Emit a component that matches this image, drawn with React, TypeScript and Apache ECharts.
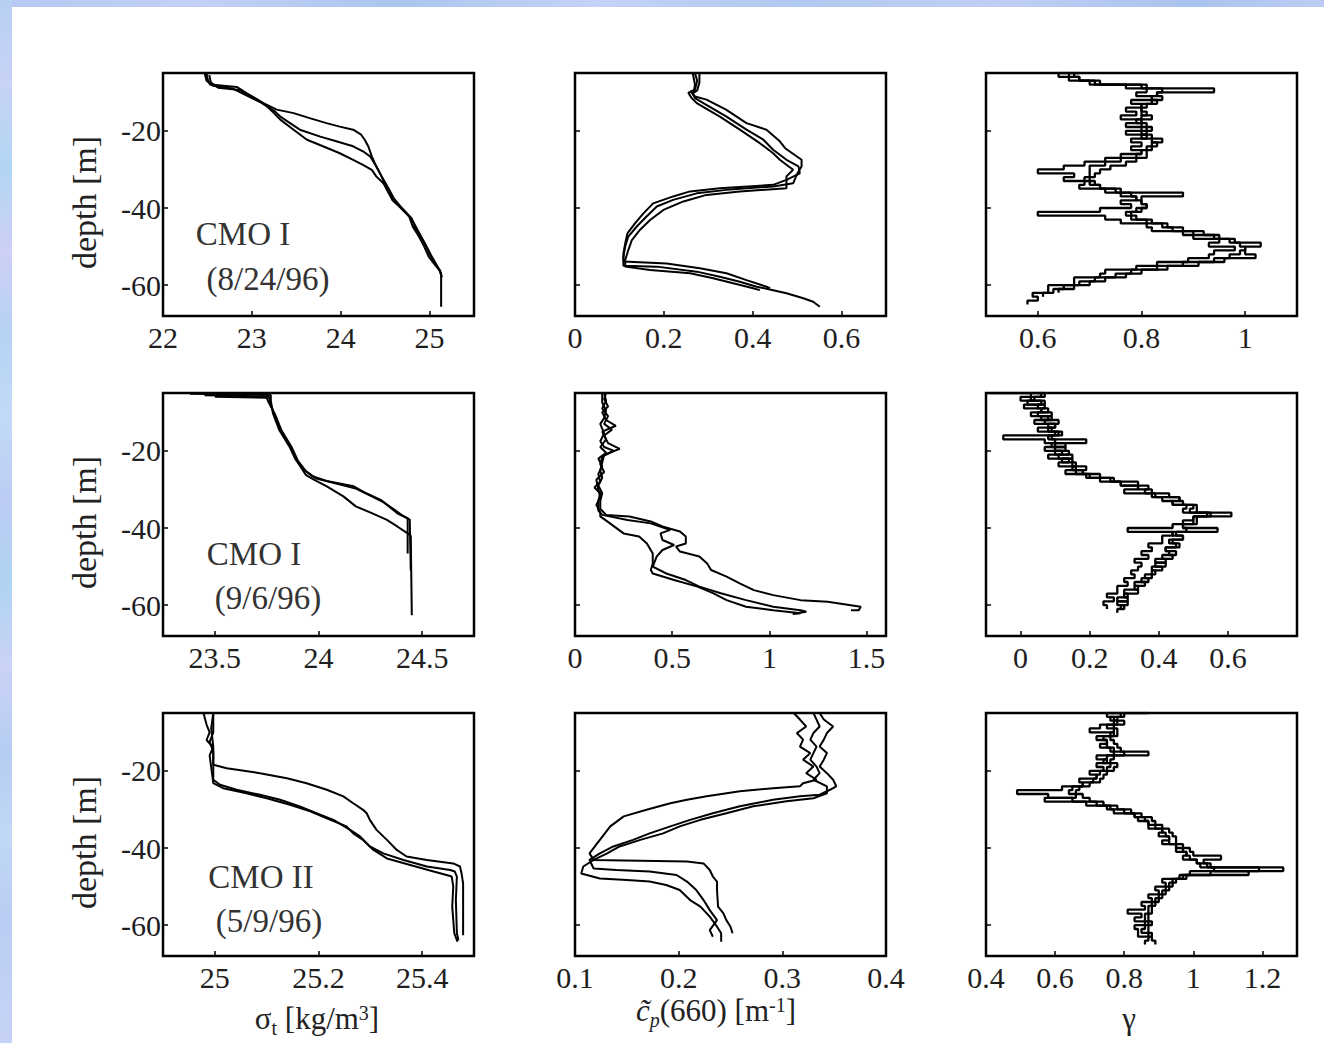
import React, { useEffect, useRef } from "react";
import * as echarts from "echarts";

// ---------- axis settings / tick labels ----------
const depthTicks = [-20, -40, -60];
const depthRange = [-68, -5];
const xRanges = [
  [22, 25.5], [0, 0.7], [0.5, 1.1],
  [23.25, 24.75], [0, 1.6], [-0.1, 0.8],
  [24.9, 25.5], [0.1, 0.4], [0.4, 1.3],
];
const xTicks = [
  [22, 23, 24, 25], [0, 0.2, 0.4, 0.6], [0.6, 0.8, 1],
  [23.5, 24, 24.5], [0, 0.5, 1, 1.5], [0, 0.2, 0.4, 0.6],
  [25, 25.2, 25.4], [0.1, 0.2, 0.3, 0.4], [0.4, 0.6, 0.8, 1, 1.2],
];
const cruiseNames = ["CMO I", "CMO I", "CMO II"];
const cruiseDates = ["(8/24/96)", "(9/6/96)", "(5/9/96)"];

// depth grid (m) for the gamma profiles
const gammaDepth = [
  -5, -6, -7, -8, -9, -10, -11, -12, -13, -14, -15, -16, -17, -18, -19, -20,
  -21, -22, -23, -24, -25, -26, -27, -28, -29, -30, -31, -32, -33, -34, -35,
  -36, -37, -38, -39, -40, -41, -42, -43, -44, -45, -46, -47, -48, -49, -50,
  -51, -52, -53, -54, -55, -56, -57, -58, -59, -60, -61, -62, -63, -64, -65,
];

// ---------- Row 1: CMO I 8/24/96 ----------
const sigAugA = [[22.49,-5],[22.5,-6.5],[22.53,-8],[22.83,-8.6],[22.94,-10.2],[23.13,-12.8],[23.28,-14.5],[23.47,-15.4],[23.65,-16.7],[23.84,-18],[23.99,-18.9],[24.14,-19.7],[24.23,-21],[24.27,-22.3],[24.31,-24],[24.35,-26.6],[24.4,-29.2],[24.46,-31.8],[24.52,-35.3],[24.58,-37.9],[24.66,-39.6],[24.77,-42.2],[24.81,-44.8],[24.88,-47.4],[24.94,-50],[24.99,-52.6],[25.05,-54.4],[25.11,-56.1],[25.13,-57],[25.13,-65.6]];
const sigAugB = [[22.47,-5.2],[22.49,-7],[22.56,-8.3],[22.78,-9],[22.91,-10.5],[23.1,-12.6],[23.25,-14.8],[23.32,-16.3],[23.43,-18],[23.54,-19.7],[23.77,-21.5],[23.95,-22.7],[24.14,-24],[24.25,-25.3],[24.33,-26.6],[24.4,-29.2],[24.46,-31.8],[24.54,-35],[24.6,-37.6],[24.68,-39.8],[24.79,-42.5],[24.84,-44.6],[24.9,-47.2],[24.96,-49.8],[25.01,-52.4],[25.07,-54.6],[25.12,-56.3],[25.13,-57.5]];
const sigAugC = [[22.52,-5.5],[22.54,-7.5],[22.62,-8.8],[22.86,-9.4],[22.97,-10.8],[23.15,-13.2],[23.24,-15.2],[23.32,-17.1],[23.47,-19.7],[23.62,-22.3],[23.8,-24],[23.99,-25.8],[24.14,-27.5],[24.25,-28.8],[24.35,-30.1],[24.4,-31.8],[24.48,-33.6],[24.53,-35.6],[24.6,-38.2],[24.69,-40.2],[24.8,-42.8],[24.84,-45.2],[24.91,-47.8],[24.97,-50.2],[25.03,-52.8],[25.08,-54.8],[25.12,-56.6],[25.14,-58]];

const cpAugA = [[0.27,-5],[0.275,-7],[0.27,-9.3],[0.26,-9.8],[0.27,-11.1],[0.296,-11.9],[0.34,-14.5],[0.386,-18],[0.431,-19.7],[0.461,-22.7],[0.473,-24.5],[0.51,-27.5],[0.51,-29.2],[0.499,-31.4],[0.491,-33.6],[0.446,-34.4],[0.341,-35.3],[0.274,-36.2],[0.221,-37.9],[0.184,-39.6],[0.161,-42.2],[0.139,-44.8],[0.12,-47.4],[0.113,-50],[0.109,-52.6],[0.109,-53.9],[0.206,-54.4],[0.281,-55.6],[0.341,-56.9],[0.386,-58.7],[0.431,-60.4],[0.439,-60.8]];
const cpAugB = [[0.28,-5],[0.28,-7.5],[0.275,-9.5],[0.265,-10.3],[0.27,-11.5],[0.289,-12.8],[0.341,-16.3],[0.386,-19.7],[0.424,-22.3],[0.446,-24.9],[0.476,-27.5],[0.503,-29.2],[0.506,-31],[0.476,-32.7],[0.446,-34],[0.326,-34.9],[0.259,-35.7],[0.221,-37],[0.176,-38.8],[0.154,-41.4],[0.135,-44],[0.118,-46.6],[0.113,-49.2],[0.109,-51.8],[0.109,-55],[0.184,-55.2],[0.274,-56.5],[0.326,-57.8],[0.371,-59.1],[0.409,-60.4],[0.446,-61.3],[0.476,-62.1],[0.514,-63.4],[0.536,-64.3],[0.551,-65.6]];
const cpAugC = [[0.265,-5],[0.27,-8],[0.268,-9.6],[0.255,-10.1],[0.262,-11.4],[0.274,-12.8],[0.326,-16.3],[0.371,-19.7],[0.416,-23.2],[0.446,-25.8],[0.461,-27.5],[0.491,-30.1],[0.476,-31.8],[0.476,-34.9],[0.371,-35.7],[0.296,-36.6],[0.244,-38.3],[0.199,-40.5],[0.169,-43.1],[0.146,-45.7],[0.128,-48.3],[0.12,-50.9],[0.113,-53.5],[0.113,-55.2],[0.169,-56.1],[0.259,-56.9],[0.311,-58.2],[0.356,-59.5],[0.401,-60.8],[0.416,-61.3]];

const gamAugA = [0.66,0.64,0.66,0.7,0.77,0.81,0.79,0.82,0.78,0.8,0.77,0.79,0.76,0.8,0.77,0.8,0.77,0.81,0.78,0.8,0.78,0.8,0.76,0.73,0.69,0.65,0.6,0.67,0.65,0.69,0.68,0.73,0.76,0.79,0.76,0.78,0.72,0.6,0.73,0.76,0.81,0.82,0.88,0.9,0.95,0.93,0.98,0.94,0.93,0.89,0.83,0.79,0.73,0.72,0.67,0.67,0.62,0.62,0.59,0.6,0.58];
const gamAugB = [0.68,0.67,0.68,0.72,0.81,0.94,0.83,0.84,0.82,0.8,0.8,0.81,0.8,0.79,0.81,0.82,0.8,0.82,0.84,0.82,0.81,0.8,0.79,0.76,0.73,0.7,0.7,0.7,0.69,0.7,0.72,0.76,0.88,0.8,0.8,0.81,0.79,0.77,0.78,0.81,0.84,0.86,0.9,0.94,0.97,0.99,1.0,0.99,0.97,0.94,0.88,0.83,0.78,0.75,0.71,0.68,0.65,0.63,0.61];
const gamAugC = [0.67,0.66,0.68,0.71,0.8,0.84,0.83,0.82,0.83,0.81,0.8,0.8,0.82,0.8,0.8,0.81,0.81,0.8,0.82,0.83,0.82,0.81,0.81,0.79,0.77,0.74,0.72,0.71,0.7,0.71,0.72,0.75,0.78,0.79,0.8,0.81,0.8,0.78,0.79,0.82,0.85,0.88,0.92,0.95,0.98,1.03,1.0,1.0,1.02,0.96,0.91,0.85,0.8,0.77,0.73,0.7,0.67,0.64];

// ---------- Row 2: CMO I 9/6/96 ----------
const sigSepA = [[23.38,-5.2],[23.77,-5.5],[23.77,-7],[23.78,-10.2],[23.81,-14.5],[23.86,-18.9],[23.89,-22.3],[23.93,-24.9],[23.97,-26.6],[24.04,-27.8],[24.17,-29.2],[24.23,-31],[24.3,-32.7],[24.34,-34.4],[24.38,-36.2],[24.43,-37.5],[24.43,-46.6]];
const sigSepB = [[23.5,-6],[23.75,-6.2],[23.76,-7.5],[23.79,-10.5],[23.82,-14.5],[23.87,-19],[23.9,-22.5],[23.94,-25.3],[23.99,-27.2],[24.08,-28.4],[24.18,-29.8],[24.25,-31.6],[24.31,-33.2],[24.36,-35],[24.4,-36.6],[24.44,-37.8],[24.445,-51]];
const sigSepC = [[23.45,-5.6],[23.76,-5.9],[23.77,-8],[23.79,-11],[23.82,-15],[23.87,-19.5],[23.9,-23],[23.94,-26.3],[23.98,-27.5],[24.04,-29.2],[24.12,-31.8],[24.18,-34.4],[24.26,-36.2],[24.33,-37.9],[24.38,-39.6],[24.43,-41.4],[24.445,-42],[24.45,-62.6]];

const cpSepA = [[0.15,-5],[0.16,-7],[0.14,-9],[0.17,-11],[0.15,-13],[0.19,-14.5],[0.15,-16],[0.17,-18],[0.23,-19.5],[0.15,-21],[0.14,-23],[0.13,-25],[0.14,-27],[0.12,-29],[0.14,-31],[0.13,-33],[0.13,-35],[0.16,-36.6],[0.28,-37],[0.39,-38.3],[0.45,-39.6],[0.54,-40.9],[0.57,-42.2],[0.57,-44],[0.52,-44.8],[0.54,-46.1],[0.64,-47.4],[0.68,-49.2],[0.7,-50.9],[0.78,-52.6],[0.85,-54.4],[0.92,-56.1],[1.02,-57.4],[1.16,-58.7],[1.3,-59.1],[1.47,-60.4],[1.46,-61.3],[1.42,-61.3]];
const cpSepB = [[0.16,-5],[0.15,-6.5],[0.17,-8.5],[0.14,-10],[0.16,-12],[0.21,-13.5],[0.14,-15],[0.16,-17],[0.13,-19],[0.16,-20.5],[0.12,-22],[0.14,-24],[0.12,-26],[0.13,-28],[0.1,-29.5],[0.13,-31],[0.12,-33],[0.12,-35.5],[0.14,-36.6],[0.27,-37.9],[0.39,-38.8],[0.49,-40.5],[0.44,-41.4],[0.45,-43.1],[0.51,-44.4],[0.45,-45.7],[0.42,-47.4],[0.4,-50],[0.47,-51.8],[0.57,-53.5],[0.64,-55.2],[0.75,-56.9],[0.88,-58.7],[1.02,-60.4],[1.16,-61.3],[1.19,-61.7],[1.14,-62.1]];
const cpSepC = [[0.14,-5],[0.14,-7.5],[0.16,-9.5],[0.15,-11.5],[0.13,-13],[0.15,-15.5],[0.13,-17.5],[0.15,-19],[0.2,-20],[0.14,-21.5],[0.13,-23.5],[0.15,-25.5],[0.11,-27.5],[0.12,-30],[0.13,-32],[0.11,-34],[0.13,-36],[0.13,-37],[0.18,-38.8],[0.25,-41.4],[0.33,-42.2],[0.37,-44],[0.4,-46.6],[0.4,-49.2],[0.39,-50.9],[0.4,-51.8],[0.51,-53.5],[0.63,-55.2],[0.71,-56.9],[0.78,-58.7],[0.88,-60.4],[1.02,-61.3],[1.16,-62.1],[1.12,-62.3]];

const gamSepA = [-0.09,0.03,0.0,0.06,0.01,0.06,0.03,0.08,0.04,0.1,0.05,0.1,-0.05,0.07,0.1,0.07,0.12,0.08,0.14,0.11,0.16,0.13,0.19,0.23,0.29,0.34,0.3,0.38,0.41,0.44,0.48,0.47,0.61,0.5,0.47,0.44,0.31,0.44,0.41,0.41,0.37,0.38,0.35,0.37,0.33,0.35,0.34,0.32,0.33,0.3,0.31,0.28,0.28,0.25,0.27,0.24,0.25];
const gamSepB = [0.03,0.06,0.03,0.07,0.05,0.08,0.05,0.09,0.07,0.1,0.08,0.11,0.08,0.19,0.09,0.13,0.1,0.15,0.12,0.16,0.15,0.18,0.2,0.27,0.29,0.37,0.36,0.43,0.46,0.44,0.5,0.49,0.54,0.51,0.51,0.47,0.57,0.45,0.47,0.43,0.46,0.42,0.45,0.41,0.42,0.39,0.41,0.38,0.38,0.35,0.36,0.33,0.34,0.3,0.31,0.28,0.3,0.28];
const gamSepC = [0.05,0.07,0.04,0.02,0.07,0.06,0.09,0.06,0.11,0.08,0.09,0.12,0.09,0.1,0.13,0.1,0.14,0.11,0.15,0.15,0.19,0.16,0.23,0.26,0.34,0.34,0.38,0.39,0.46,0.47,0.51,0.51,0.55,0.5,0.5,0.47,0.48,0.44,0.47,0.44,0.45,0.42,0.43,0.44,0.39,0.42,0.38,0.39,0.36,0.37,0.33,0.34,0.3,0.31,0.28,0.31,0.29];

// ---------- Row 3: CMO II 5/9/96 ----------
const sigMayA = [[24.978,-5],[24.984,-8],[24.99,-10],[24.984,-12],[24.997,-14],[24.997,-18.4],[25.023,-19.3],[25.087,-20.6],[25.139,-21.9],[25.177,-23.2],[25.216,-24.9],[25.248,-26.6],[25.267,-28.4],[25.286,-30.1],[25.293,-31],[25.299,-32.7],[25.312,-35.3],[25.332,-37.9],[25.351,-40.5],[25.37,-42.2],[25.409,-43.1],[25.46,-44],[25.473,-44.8],[25.476,-46.6],[25.479,-49.2],[25.479,-62.6]];
const sigMayB = [[24.997,-5],[24.997,-10],[24.99,-12.5],[24.997,-15],[24.997,-22.3],[25.01,-23.6],[25.042,-24.9],[25.087,-26.2],[25.126,-27.5],[25.164,-29.2],[25.196,-31],[25.229,-32.7],[25.261,-35.3],[25.28,-37],[25.299,-39.6],[25.325,-41.4],[25.364,-43.1],[25.409,-44.8],[25.454,-45.7],[25.463,-46.1],[25.467,-47.4],[25.465,-53.5],[25.467,-62.1],[25.47,-64]];
const sigMayC = [[24.997,-5],[24.993,-9],[24.997,-13.7],[24.99,-16],[24.997,-23.2],[25.016,-24.5],[25.061,-25.8],[25.1,-27.1],[25.145,-28.8],[25.184,-30.5],[25.216,-32.3],[25.254,-34.4],[25.267,-36.2],[25.286,-37.9],[25.306,-40.5],[25.332,-42.7],[25.377,-44.4],[25.422,-46.1],[25.447,-47],[25.457,-47.4],[25.46,-50],[25.458,-55.2],[25.462,-62.1],[25.468,-64.3]];

const cpMayA = [[0.311,-5],[0.317,-6.7],[0.323,-8.5],[0.314,-10.2],[0.32,-11.9],[0.317,-13.7],[0.327,-15.4],[0.32,-17.1],[0.33,-18.9],[0.323,-20.6],[0.333,-22.3],[0.32,-23.2],[0.317,-24],[0.291,-24.5],[0.259,-25.3],[0.227,-26.6],[0.208,-27.5],[0.192,-28.4],[0.169,-30.1],[0.147,-31.8],[0.134,-34.4],[0.124,-37.9],[0.114,-41.4],[0.118,-43.1],[0.163,-43.3],[0.208,-43.5],[0.224,-44],[0.23,-45.7],[0.233,-47.4],[0.237,-48.7],[0.237,-50.9],[0.238,-55.2],[0.243,-56.9],[0.246,-58.7],[0.25,-60.4],[0.252,-62.1]];
const cpMayB = [[0.336,-5],[0.34,-6.7],[0.349,-8.5],[0.343,-10.2],[0.34,-11.9],[0.336,-13.7],[0.343,-15.4],[0.34,-17.1],[0.336,-18.9],[0.343,-20.6],[0.349,-22.3],[0.352,-24],[0.346,-24.9],[0.336,-26.2],[0.317,-26.6],[0.291,-27.5],[0.259,-29.2],[0.233,-31],[0.211,-32.7],[0.192,-34.4],[0.172,-36.2],[0.156,-37.9],[0.137,-39.6],[0.124,-41.4],[0.114,-43.1],[0.118,-45.3],[0.14,-45.7],[0.172,-46.1],[0.198,-47],[0.208,-48.7],[0.217,-50.9],[0.224,-53.5],[0.23,-56.1],[0.237,-58.7],[0.23,-61.3],[0.233,-63]];
const cpMayC = [[0.33,-5],[0.333,-6.7],[0.336,-8.5],[0.33,-10.2],[0.327,-11.9],[0.333,-13.7],[0.33,-15.4],[0.327,-17.1],[0.333,-18.9],[0.336,-20.6],[0.33,-22.3],[0.343,-24],[0.343,-25.8],[0.33,-27.1],[0.304,-27.9],[0.272,-29.2],[0.246,-31],[0.221,-32.7],[0.201,-34.4],[0.185,-36.2],[0.163,-37.9],[0.143,-39.6],[0.131,-41.4],[0.118,-43.1],[0.108,-44.8],[0.106,-46.6],[0.124,-47.9],[0.15,-48.3],[0.172,-48.7],[0.188,-49.6],[0.201,-50.9],[0.211,-53.5],[0.221,-55.2],[0.23,-57.8],[0.237,-60.4],[0.241,-62.1],[0.241,-64.3]];

const gamMayA = [0.79,0.75,0.77,0.8,0.73,0.7,0.77,0.72,0.75,0.73,0.77,0.8,0.72,0.75,0.72,0.74,0.7,0.72,0.67,0.68,0.62,0.49,0.58,0.65,0.69,0.75,0.77,0.83,0.84,0.87,0.87,0.91,0.9,0.93,0.91,0.95,0.95,0.98,0.97,1.01,1.02,1.26,0.99,0.96,0.91,0.92,0.89,0.9,0.87,0.88,0.85,0.86,0.81,0.85,0.83,0.86,0.83,0.84,0.84,0.87,0.86];
const gamMayB = [0.87,0.8,0.78,0.77,0.77,0.78,0.78,0.76,0.77,0.78,0.79,0.87,0.77,0.76,0.78,0.77,0.75,0.74,0.73,0.7,0.67,0.66,0.68,0.7,0.74,0.78,0.82,0.85,0.88,0.89,0.91,0.93,0.94,0.95,0.95,0.97,0.99,1.0,1.08,1.03,1.05,1.19,1.05,0.98,0.95,0.94,0.93,0.92,0.91,0.9,0.89,0.88,0.88,0.87,0.87,0.88,0.87,0.87,0.88];
const gamMayC = [0.8,0.79,0.76,0.78,0.75,0.77,0.76,0.74,0.75,0.75,0.76,0.77,0.75,0.74,0.76,0.75,0.73,0.72,0.71,0.68,0.65,0.64,0.66,0.57,0.72,0.76,0.8,0.83,0.86,0.87,0.89,0.91,0.92,0.93,0.93,0.95,0.97,0.98,0.99,1.01,1.04,1.06,1.16,0.97,0.94,0.93,0.92,0.91,0.9,0.89,0.88,0.87,0.87,0.86,0.86,0.87,0.86,0.85,0.87,0.88,0.89];

// ---------- layout ----------
const GRID_LEFT = [163, 575, 986];
const GRID_TOP = [73, 393, 713];
const GRID_W = 311;
const GRID_H = 243;
const SERIF = "Liberation Serif";

const onDepth = (vals: number[]) => vals.map((v, i) => [v, gammaDepth[i]]);

const panelProfiles: { lines: number[][][]; step: boolean }[] = [
  { lines: [sigAugA, sigAugB, sigAugC], step: false },
  { lines: [cpAugA, cpAugB, cpAugC], step: false },
  { lines: [onDepth(gamAugA), onDepth(gamAugB), onDepth(gamAugC)], step: true },
  { lines: [sigSepA, sigSepB, sigSepC], step: false },
  { lines: [cpSepA, cpSepB, cpSepC], step: false },
  { lines: [onDepth(gamSepA), onDepth(gamSepB), onDepth(gamSepC)], step: true },
  { lines: [sigMayA, sigMayB, sigMayC], step: false },
  { lines: [cpMayA, cpMayB, cpMayC], step: false },
  { lines: [onDepth(gamMayA), onDepth(gamMayB), onDepth(gamMayC)], step: true },
];

function buildOption() {
  const grid: any[] = [];
  const xAxis: any[] = [];
  const yAxis: any[] = [];
  const series: any[] = [];
  const labelStyle = { fontFamily: SERIF, fontSize: 30, color: "#1e1e1e" };
  for (let i = 0; i < 9; i++) {
    const r = Math.floor(i / 3);
    const c = i % 3;
    grid.push({
      left: GRID_LEFT[c], top: GRID_TOP[r], width: GRID_W, height: GRID_H,
      show: true, borderColor: "#000", borderWidth: 2.5, backgroundColor: "transparent",
    });
    xAxis.push({
      gridIndex: i, type: "value", min: xRanges[i][0], max: xRanges[i][1],
      axisLine: { show: false, onZero: false },
      axisTick: { show: true, inside: true, length: 5, customValues: xTicks[i], lineStyle: { color: "#000", width: 1.5 } },
      axisLabel: { ...labelStyle, margin: 6, customValues: xTicks[i], showMinLabel: true, showMaxLabel: true },
      splitLine: { show: false },
    });
    yAxis.push({
      gridIndex: i, type: "value", min: depthRange[0], max: depthRange[1],
      axisLine: { show: false, onZero: false },
      axisTick: { show: true, inside: true, length: 5, customValues: depthTicks, lineStyle: { color: "#000", width: 1.5 } },
      axisLabel: { ...labelStyle, show: c === 0, margin: 2, customValues: depthTicks },
      splitLine: { show: false },
    });
    const step = panelProfiles[i].step;
    panelProfiles[i].lines.forEach((d) => {
      series.push({
        type: "line", xAxisIndex: i, yAxisIndex: i, data: d,
        symbol: "none", showSymbol: false, silent: true,
        step: step ? "end" : false,
        lineStyle: { color: "#000", width: step ? 2.3 : 2 },
      });
    });
  }

  const graphic: any[] = [];
  const annCenters = [[243, 234, 268, 279], [254, 554, 268, 598], [261, 877, 269, 921]];
  for (let r = 0; r < 3; r++) {
    const [x1, y1, x2, y2] = annCenters[r];
    graphic.push({ type: "text", x: x1, y: y1, silent: true,
      style: { text: cruiseNames[r], fontFamily: SERIF, fontSize: 33, fill: "#333", align: "center", verticalAlign: "middle" } });
    graphic.push({ type: "text", x: x2, y: y2, silent: true,
      style: { text: cruiseDates[r], fontFamily: SERIF, fontSize: 33, fill: "#333", align: "center", verticalAlign: "middle" } });
    graphic.push({ type: "text", x: 84, y: GRID_TOP[r] + GRID_H / 2 + 8, rotation: Math.PI / 2, silent: true,
      style: { text: "depth [m]", fontFamily: SERIF, fontSize: 34, fill: "#222", align: "center", verticalAlign: "middle" } });
  }
  const base = { fontFamily: SERIF, fontSize: 31, fill: "#222", verticalAlign: "bottom", padding: [0, 0, 4, 0] };
  const sub = { fontFamily: SERIF, fontSize: 20, fill: "#222", verticalAlign: "bottom" };
  const sup = { fontFamily: SERIF, fontSize: 20, fill: "#222", verticalAlign: "top" };
  graphic.push({ type: "text", x: 317, y: 1020, silent: true,
    style: { text: "{a|σ}{b|t}{a| [kg/m}{c|3}{a|]}", align: "center", verticalAlign: "middle",
      rich: { a: base, b: sub, c: sup } } });
  graphic.push({ type: "text", x: 716, y: 1012, silent: true,
    style: { text: "{i|c\u0303}{s|p}{a|(660) [m}{c|-1}{a|]}", align: "center", verticalAlign: "middle",
      rich: { a: base, i: { ...base, fontStyle: "italic" }, s: { ...sub, fontStyle: "italic" }, c: sup } } });
  graphic.push({ type: "text", x: 1129, y: 1018, silent: true,
    style: { text: "γ", fontFamily: SERIF, fontSize: 31, fill: "#222", align: "center", verticalAlign: "middle" } });

  return { animation: false, grid, xAxis, yAxis, series, graphic };
}

export default function App() {
  const ref = useRef<HTMLDivElement>(null);
  useEffect(() => {
    if (!ref.current) return;
    const chart = echarts.init(ref.current, undefined, { renderer: "svg" });
    chart.setOption(buildOption());
    return () => chart.dispose();
  }, []);
  return (
    <div style={{ position: "absolute", left: 0, top: 0, width: 1324, height: 1043, background: "#fff", overflow: "hidden" }}>
      <div style={{ position: "absolute", left: 0, top: 0, width: 1324, height: 7,
        background: "linear-gradient(90deg, #b4c9f2 0%, #c4d0f6 15%, #aac6ee 30%, #c6d2f7 45%, #b0c9f0 60%, #c2cff5 75%, #a9c3ee 90%, #bccdf4 100%)" }} />
      <div style={{ position: "absolute", left: 0, top: 0, width: 12, height: 1043,
        background: "linear-gradient(180deg, #b8cff4 0%, #c7d3f6 8%, #b2d6f3 16%, #cdd0f6 24%, #b6d2f4 32%, #c2daf6 40%, #bcccf5 48%, #b0d4f2 56%, #cad2f6 64%, #b6cdf3 72%, #c0d8f5 80%, #bacdf4 88%, #c6d3f6 100%)" }} />
      <div ref={ref} style={{ position: "absolute", left: 0, top: 0, width: 1324, height: 1043 }} />
    </div>
  );
}
